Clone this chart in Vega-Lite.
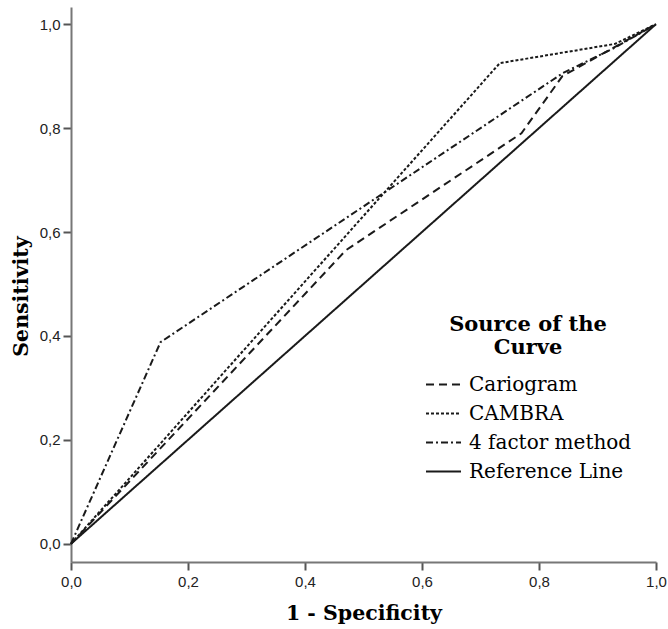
{
  "$schema": "https://vega.github.io/schema/vega-lite/v6.json",
  "width": 585,
  "height": 555,
  "autosize": {"type": "none"},
  "padding": {"left": 71, "top": 7, "right": 12, "bottom": 67},
  "background": "white",
  "config": {"view": {"stroke": null}},
  "data": {"values": [
    {"fpr": 0.0, "tpr": 0.0, "curve": "Cariogram"},
    {"fpr": 0.47, "tpr": 0.565, "curve": "Cariogram"},
    {"fpr": 0.77, "tpr": 0.79, "curve": "Cariogram"},
    {"fpr": 0.84, "tpr": 0.9, "curve": "Cariogram"},
    {"fpr": 1.0, "tpr": 1.0, "curve": "Cariogram"},
    {"fpr": 0.0, "tpr": 0.0, "curve": "CAMBRA"},
    {"fpr": 0.733, "tpr": 0.925, "curve": "CAMBRA"},
    {"fpr": 0.93, "tpr": 0.962, "curve": "CAMBRA"},
    {"fpr": 1.0, "tpr": 1.0, "curve": "CAMBRA"},
    {"fpr": 0.0, "tpr": 0.0, "curve": "4 factor method"},
    {"fpr": 0.153, "tpr": 0.388, "curve": "4 factor method"},
    {"fpr": 0.841, "tpr": 0.906, "curve": "4 factor method"},
    {"fpr": 0.93, "tpr": 0.955, "curve": "4 factor method"},
    {"fpr": 1.0, "tpr": 1.0, "curve": "4 factor method"},
    {"fpr": 0.0, "tpr": 0.0, "curve": "Reference Line"},
    {"fpr": 1.0, "tpr": 1.0, "curve": "Reference Line"}
  ]},
  "mark": {"type": "line", "strokeWidth": 2, "color": "#1a1a1a", "clip": false},
  "encoding": {
    "x": {
      "field": "fpr", "type": "quantitative",
      "scale": {"domain": [0, 1], "nice": false, "zero": false},
      "axis": {
        "title": "1 - Specificity",
        "values": [0, 0.2, 0.4, 0.6, 0.8, 1.0],
        "labelExpr": "replace(format(datum.value, '.1f'), '.', ',')",
        "grid": false,
        "domainColor": "#777777", "domainWidth": 2,
        "tickColor": "#555555", "tickWidth": 2, "tickSize": 8,
        "labelFont": "Liberation Sans", "labelFontSize": 15, "labelColor": "#222222",
        "labelPadding": 4, "labelFlush": false,
        "titleFont": "DejaVu Serif", "titleFontSize": 20.5, "titleFontWeight": "bold",
        "titleColor": "#000000", "titlePadding": 14
      }
    },
    "y": {
      "field": "tpr", "type": "quantitative",
      "scale": {"domain": [-0.035, 1.033], "nice": false, "zero": false},
      "axis": {
        "title": "Sensitivity",
        "values": [0, 0.2, 0.4, 0.6, 0.8, 1.0],
        "labelExpr": "replace(format(datum.value, '.1f'), '.', ',')",
        "grid": false,
        "domainColor": "#777777", "domainWidth": 2,
        "tickColor": "#555555", "tickWidth": 2, "tickSize": 8,
        "labelFont": "Liberation Sans", "labelFontSize": 15, "labelColor": "#222222",
        "labelPadding": 3, "labelFlush": false,
        "titleFont": "DejaVu Serif", "titleFontSize": 20.5, "titleFontWeight": "bold",
        "titleColor": "#000000", "titlePadding": 8, "titleY": 289
      }
    },
    "strokeDash": {
      "field": "curve", "type": "nominal",
      "scale": {
        "domain": ["Cariogram", "CAMBRA", "4 factor method", "Reference Line"],
        "range": [[8, 5], [3, 2], [7, 3, 2, 3], [1, 0]]
      },
      "legend": {
        "title": ["Source of the", "Curve"],
        "orient": "none",
        "legendX": 354,
        "legendY": 307,
        "padding": 0,
        "symbolType": "stroke",
        "symbolSize": 1225,
        "symbolStrokeWidth": 2,
        "symbolStrokeColor": "#1a1a1a",
        "labelFont": "DejaVu Serif", "labelFontSize": 20, "labelColor": "#000000",
        "labelOffset": 7,
        "labelLimit": 0,
        "rowPadding": 0,
        "titleFont": "DejaVu Serif", "titleFontSize": 21, "titleFontWeight": "bold",
        "titleColor": "#000000", "titleAnchor": "middle", "titleLineHeight": 23,
        "titlePadding": 8
      }
    }
  }
}
